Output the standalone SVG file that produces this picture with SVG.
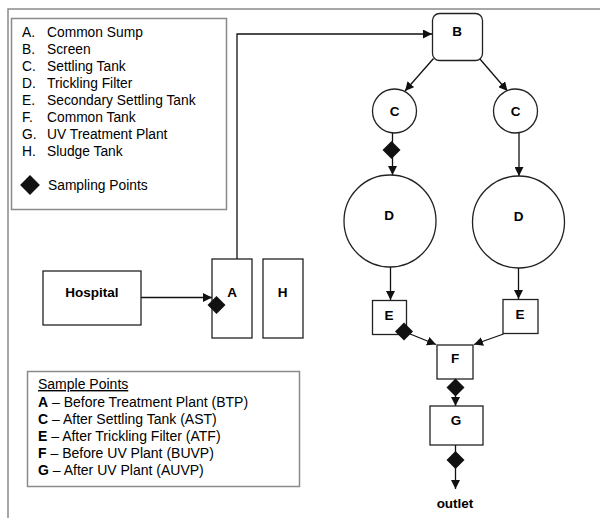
<svg xmlns="http://www.w3.org/2000/svg" width="600" height="518" viewBox="0 0 600 518">
<style>
text{font-family:"Liberation Sans",Arial,sans-serif;fill:#000}
.lg{font-size:13.8px}
.sp{font-size:14px}
.lb{font-size:13.5px;font-weight:bold;text-anchor:middle}
.frame{fill:none;stroke:#8a8a8a;stroke-width:1.5}
.box{fill:#fff;stroke:#222;stroke-width:1.3}
.ln{fill:none;stroke:#111;stroke-width:1.3}
.dia{fill:#111}
</style>
<defs>
<marker id="ah" viewBox="0 0 10 10" refX="10" refY="5" markerWidth="9" markerHeight="9" markerUnits="userSpaceOnUse" orient="auto">
<path d="M0,0 L10,5 L0,10 Z" fill="#111"/>
</marker>
<path id="dm" d="M0,-9 L9,0 L0,9 L-9,0 Z"/>
</defs>
<rect width="600" height="518" fill="#fff"/>
<path class="frame" d="M8,518 V9 H600"/>

<g id="legend">
<rect class="frame" x="11.5" y="18.5" width="215" height="191"/>
<g class="lg">
<text x="22" y="37">A.</text><text x="47" y="37">Common Sump</text>
<text x="22" y="54">B.</text><text x="47" y="54">Screen</text>
<text x="22" y="71">C.</text><text x="47" y="71">Settling Tank</text>
<text x="22" y="88">D.</text><text x="47" y="88">Trickling Filter</text>
<text x="22" y="105">E.</text><text x="47" y="105">Secondary Settling Tank</text>
<text x="22" y="122">F.</text><text x="47" y="122">Common Tank</text>
<text x="22" y="139">G.</text><text x="47" y="139">UV Treatment Plant</text>
<text x="22" y="156">H.</text><text x="47" y="156">Sludge Tank</text>
<text x="48" y="190">Sampling Points</text>
</g>
<use href="#dm" class="dia" x="30" y="185" transform="translate(30 185) scale(1.1) translate(-30 -185)"/>
</g>

<g id="samplepoints">
<rect class="frame" x="27.5" y="371.5" width="272" height="115"/>
<g class="sp">
<text x="38" y="389" text-decoration="underline">Sample Points</text>
<text x="38" y="407"><tspan font-weight="bold">A</tspan> – Before Treatment Plant (BTP)</text>
<text x="38" y="424"><tspan font-weight="bold">C</tspan> – After Settling Tank (AST)</text>
<text x="38" y="441"><tspan font-weight="bold">E</tspan> – After Trickling Filter (ATF)</text>
<text x="38" y="458"><tspan font-weight="bold">F</tspan> – Before UV Plant (BUVP)</text>
<text x="38" y="475"><tspan font-weight="bold">G</tspan> – After UV Plant (AUVP)</text>
</g>
</g>

<g id="connectors">
<path class="ln" d="M141,297.5 H212" marker-end="url(#ah)"/>
<path class="ln" d="M237,259 V34 H432" marker-end="url(#ah)"/>
<path class="ln" d="M433.5,58.5 L405,91" marker-end="url(#ah)"/>
<path class="ln" d="M479.5,58.5 L507.5,91" marker-end="url(#ah)"/>
<path class="ln" d="M392.5,133 V175" marker-end="url(#ah)"/>
<path class="ln" d="M519,133 V176" marker-end="url(#ah)"/>
<path class="ln" d="M390.5,267 V300" marker-end="url(#ah)"/>
<path class="ln" d="M518.5,268 V299" marker-end="url(#ah)"/>
<path class="ln" d="M404,331.5 L436,344.5" marker-end="url(#ah)"/>
<path class="ln" d="M503.5,334 L474,344.5" marker-end="url(#ah)"/>
<path class="ln" d="M455.5,379 V406" marker-end="url(#ah)"/>
<path class="ln" d="M455.5,445 V489" marker-end="url(#ah)"/>
</g>

<g id="hospital">
<rect class="box" x="43" y="271" width="98" height="54"/>
<text class="lb" x="92" y="297">Hospital</text>
</g>
<g id="nodeA">
<rect class="box" x="212" y="259" width="40" height="79"/>
<text class="lb" x="232" y="297">A</text>
</g>
<g id="nodeH">
<rect class="box" x="263" y="259" width="40" height="79"/>
<text class="lb" x="282.5" y="297">H</text>
</g>
<g id="nodeB">
<rect class="box" x="432.5" y="13.5" width="50" height="47" rx="7"/>
<text class="lb" x="457" y="36" font-size="14">B</text>
</g>
<g id="nodeC1">
<circle class="box" cx="394.5" cy="111" r="22"/>
<text class="lb" x="394.5" y="116">C</text>
</g>
<g id="nodeC2">
<circle class="box" cx="515.5" cy="111" r="22"/>
<text class="lb" x="515.5" y="116">C</text>
</g>
<g id="nodeD1">
<circle class="box" cx="390" cy="221" r="46"/>
<text class="lb" x="389" y="220">D</text>
</g>
<g id="nodeD2">
<circle class="box" cx="518.5" cy="222" r="46"/>
<text class="lb" x="518.5" y="221">D</text>
</g>
<g id="nodeE1">
<rect class="box" x="372.5" y="300.5" width="34" height="34"/>
<text class="lb" x="389" y="320">E</text>
</g>
<g id="nodeE2">
<rect class="box" x="503" y="299.5" width="35" height="34"/>
<text class="lb" x="520" y="319">E</text>
</g>
<g id="nodeF">
<rect class="box" x="437" y="345" width="36" height="34"/>
<text class="lb" x="455" y="363">F</text>
</g>
<g id="nodeG">
<rect class="box" x="430" y="406" width="53" height="39"/>
<text class="lb" x="456" y="425">G</text>
</g>
<g id="outlet">
<text class="lb" x="455" y="508">outlet</text>
</g>

<g id="sampling">
<use href="#dm" class="dia" x="216.5" y="305"/>
<use href="#dm" class="dia" x="391.5" y="150"/>
<use href="#dm" class="dia" x="404" y="331.5"/>
<use href="#dm" class="dia" x="455.5" y="387.5"/>
<use href="#dm" class="dia" x="455.5" y="460"/>
</g>
</svg>
